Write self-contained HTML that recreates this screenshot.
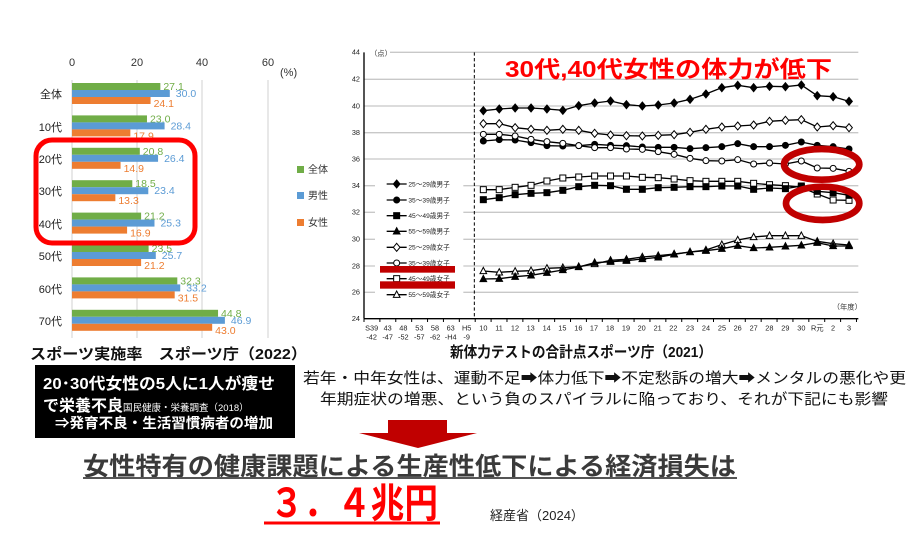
<!DOCTYPE html>
<html><head><meta charset="utf-8"><style>
html,body{margin:0;padding:0;background:#fff;}
svg{display:block;font-family:"Liberation Sans","Noto Sans CJK JP",sans-serif;}
</style></head><body>
<svg id="s" width="916" height="556" viewBox="0 0 916 556" xmlns="http://www.w3.org/2000/svg">
<rect width="916" height="556" fill="#fff"/>
<!-- LEFT CHART -->
<g font-size="11" fill="#333">
<text x="72" y="66" text-anchor="middle">0</text>
<text x="137" y="66" text-anchor="middle">20</text>
<text x="202" y="66" text-anchor="middle">40</text>
<text x="268" y="66" text-anchor="middle">60</text>
<text x="280" y="76">(%)</text>
</g>
<g stroke="#d0d0d0" stroke-width="1">
<line x1="72" y1="80" x2="72" y2="338"/><line x1="137" y1="80" x2="137" y2="338"/>
<line x1="202" y1="80" x2="202" y2="338"/><line x1="268" y1="80" x2="268" y2="338"/>
</g>
<g id="bars"></g>
<g font-size="11" fill="#222" text-anchor="end">
<text x="62" y="98">全体</text><text x="62" y="131">10代</text><text x="62" y="163">20代</text>
<text x="62" y="195">30代</text><text x="62" y="228">40代</text><text x="62" y="260">50代</text>
<text x="62" y="293">60代</text><text x="62" y="325">70代</text>
</g>
<g font-size="10" fill="#333">
<rect x="297" y="166" width="7" height="7" fill="#70ad47"/><text x="308" y="173">全体</text>
<rect x="297" y="192" width="7" height="7" fill="#5b9bd5"/><text x="308" y="199">男性</text>
<rect x="297" y="219" width="7" height="7" fill="#ed7d31"/><text x="308" y="226">女性</text>
</g>
<rect x="36" y="140" width="159" height="103" rx="16" fill="none" stroke="#ff0000" stroke-width="5"/>
<text x="30" y="359" font-size="15" font-weight="bold" fill="#111" textLength="277" lengthAdjust="spacingAndGlyphs">スポーツ実施率　スポーツ庁（2022）</text>

<!-- RIGHT CHART -->
<g transform="translate(360,40) scale(0.33333)">
<g stroke="#c8c8c8" stroke-width="4">
<line x1="90" y1="37" x2="1495" y2="37"/>
<line x1="12" y1="118" x2="1495" y2="118"/><line x1="12" y1="198" x2="1495" y2="198"/>
<line x1="12" y1="278" x2="1495" y2="278"/><line x1="12" y1="357" x2="1495" y2="357"/>
<line x1="12" y1="437" x2="1495" y2="437"/><line x1="12" y1="517" x2="1495" y2="517"/>
<line x1="12" y1="598" x2="1495" y2="598"/><line x1="12" y1="678" x2="1495" y2="678"/>
<line x1="12" y1="757" x2="1495" y2="757"/>
</g>
<line x1="12" y1="37" x2="12" y2="836" stroke="#000" stroke-width="4"/>
<line x1="12" y1="836" x2="1495" y2="836" stroke="#000" stroke-width="4"/>
<line x1="343" y1="37" x2="343" y2="836" stroke="#000" stroke-width="3" stroke-dasharray="10,7"/>
<rect x="45" y="408" width="265" height="380" fill="#fff"/>
<text x="30" y="48" font-size="22" fill="#333">（点）</text>
<text x="1418" y="808" font-size="22" fill="#333">（年度）</text>
<g id="ticks" stroke="#000" stroke-width="3"></g>
<g font-size="22" fill="#222" text-anchor="middle">
<text x="35" y="872">S39</text><text x="83" y="872">43</text><text x="130" y="872">48</text><text x="178" y="872">53</text><text x="225" y="872">58</text><text x="272" y="872">63</text><text x="320" y="872">H5</text>
<text x="35" y="898">-42</text><text x="83" y="898">-47</text><text x="130" y="898">-52</text><text x="178" y="898">-57</text><text x="225" y="898">-62</text><text x="272" y="898">-H4</text><text x="320" y="898">-9</text>
<text x="370" y="872">10</text><text x="417" y="872">11</text><text x="465" y="872">12</text><text x="512" y="872">13</text><text x="560" y="872">14</text><text x="607" y="872">15</text><text x="655" y="872">16</text><text x="702" y="872">17</text><text x="750" y="872">18</text><text x="798" y="872">19</text><text x="845" y="872">20</text><text x="893" y="872">21</text><text x="940" y="872">22</text><text x="990" y="872">23</text><text x="1038" y="872">24</text><text x="1086" y="872">25</text><text x="1133" y="872">26</text><text x="1181" y="872">27</text><text x="1228" y="872">28</text><text x="1276" y="872">29</text><text x="1324" y="872">30</text><text x="1372" y="872">R元</text><text x="1419" y="872">2</text><text x="1467" y="872">3</text>
</g>
<g font-size="22" fill="#222" text-anchor="end">
<text x="0" y="44">44</text><text x="0" y="125">42</text><text x="0" y="205">40</text><text x="0" y="285">38</text><text x="0" y="364">36</text><text x="0" y="444">34</text><text x="0" y="524">32</text><text x="0" y="605">30</text><text x="0" y="685">28</text><text x="0" y="764">26</text><text x="0" y="843">24</text>
</g>
<g font-size="20" fill="#222">
<text x="145" y="439">25～29歳男子</text><text x="145" y="487">35～39歳男子</text>
<text x="145" y="534">45～49歳男子</text><text x="145" y="581">55～59歳男子</text>
<text x="145" y="629">25～29歳女子</text><text x="145" y="676">35～39歳女子</text>
<text x="145" y="723">45～49歳女子</text><text x="145" y="771">55～59歳女子</text>
</g>
<g id="series"></g>
<rect x="60" y="678" width="225" height="20" fill="#c00000"/>
<rect x="60" y="724" width="225" height="22" fill="#c00000"/>
<clipPath id="cp"><rect x="0" y="0" width="1518" height="900"/></clipPath>
<g clip-path="url(#cp)" fill="none" stroke="#c00000" stroke-width="20">
<ellipse cx="1385" cy="373" rx="113" ry="46"/>
<ellipse cx="1388" cy="490" rx="110" ry="50"/>
</g>
</g>
<text x="505" y="77" font-size="23" font-weight="bold" fill="#ff0000" textLength="327" lengthAdjust="spacingAndGlyphs">30代,40代女性の体力が低下</text>
<text x="450" y="357" font-size="15" font-weight="bold" fill="#111" textLength="262" lengthAdjust="spacingAndGlyphs">新体力テストの合計点スポーツ庁（2021）</text>

<!-- BOTTOM -->
<rect x="35" y="365" width="260" height="73" fill="#000"/>
<g fill="#fff" font-weight="bold">
<text x="43" y="389" font-size="16" textLength="232" lengthAdjust="spacingAndGlyphs">20･30代女性の5人に1人が痩せ</text>
<text x="43" y="411" font-size="16">で栄養不良<tspan font-size="9.5" font-weight="normal">国民健康・栄養調査（2018）</tspan></text>
<text x="55" y="428" font-size="14" textLength="218" lengthAdjust="spacingAndGlyphs">⇒発育不良・生活習慣病者の増加</text>
</g>
<g font-size="15" fill="#111">
<text x="303" y="383" textLength="603" lengthAdjust="spacingAndGlyphs">若年・中年女性は、運動不足➡体力低下➡不定愁訴の増大➡メンタルの悪化や更</text>
<text x="320" y="404" textLength="568" lengthAdjust="spacingAndGlyphs">年期症状の増悪、という負のスパイラルに陥っており、それが下記にも影響</text>
</g>
<polygon points="388,420 447,420 447,433 477,433 418,448 359,433 388,433" fill="#c00000"/>
<text x="83" y="475" font-size="25" font-weight="bold" fill="#3a3a3a" textLength="653" lengthAdjust="spacingAndGlyphs">女性特有の健康課題による生産性低下による経済損失は</text>
<line x1="83" y1="478" x2="737" y2="478" stroke="#555" stroke-width="2"/>
<text x="270" y="517" font-size="40" font-weight="bold" fill="#ff0000" textLength="168" lengthAdjust="spacingAndGlyphs">３．４兆円</text>
<line x1="264" y1="523" x2="440" y2="523" stroke="#ff0000" stroke-width="3"/>
<text x="490" y="520" font-size="13" fill="#222">経産省（2024）</text>
</svg>
<script>
var NS="http://www.w3.org/2000/svg";
function el(p,t,a){var e=document.createElementNS(NS,t);for(var k in a)e.setAttribute(k,a[k]);p.appendChild(e);return e;}
var bars=document.getElementById('bars');
var d=[[27.1,30.0,24.1],[23.0,28.4,17.9],[20.8,26.4,14.9],[18.5,23.4,13.3],[21.2,25.3,16.9],[23.5,25.7,21.2],[32.3,33.2,31.5],[44.8,46.9,43.0]];
var cols=["#70ad47","#5b9bd5","#ed7d31"];
d.forEach(function(r,i){var yc=94+i*32.4;
r.forEach(function(v,j){var y=yc-11+j*7;var w=v*3.26;
el(bars,'rect',{x:72,y:y,width:w,height:7,fill:cols[j]});
var t=el(bars,'text',{x:72+w+[3,6,3][j],y:y+7+(j==2?3:0),"font-size":10.5,fill:cols[j]});t.textContent=v.toFixed(1);});});
var tk=document.getElementById('ticks');
for(var i=0;i<32;i++){var x=12+i*47.66;el(tk,'line',{x1:x,y1:836,x2:x,y2:846});}
var S=document.getElementById('series');
var X=function(i){return 370+i*47.7;};
var ser=[
["d",1,[212,207,204,204,207,211,197,189,183,194,198,195,189,178,162,143,136,143,139,140,135,167,170,184],432],
["d",0,[251,251,263,268,271,268,271,280,285,287,288,286,284,277,268,261,258,255,244,241,239,261,257,263],622],
["c",1,[303,299,300,308,317,318,317,313,316,317,321,322,322,326,323,320,311,320,320,316,306,316,320,327],480],
["c",0,[283,283,288,298,305,310,317,323,323,327,328,335,343,355,362,363,359,372,369,372,363,384,385,394],669],
["s",0,[449,449,442,436,423,414,411,408,408,408,412,413,417,422,424,424,424,430,434,437,442,462,480,481],716],
["s",1,[479,473,464,460,458,451,440,436,437,448,448,443,442,440,440,438,438,448,444,446,438,454,458,466],527],
["t",0,[693,697,694,692,685,683,680,672,661,658,651,647,642,636,630,614,600,591,587,587,587,604,611,615],764],
["t",1,[717,716,710,706,698,690,681,668,665,662,657,652,643,636,632,626,617,624,622,619,616,608,618,618],574]];
function mk(t,f,x,y){var a={fill:f?"#000":"#fff",stroke:"#000","stroke-width":3};
if(t=="d"){a.points=[x,y-12,x+10,y,x,y+12,x-10,y].join(",");el(S,'polygon',a);}
else if(t=="c"){a.cx=x;a.cy=y;a.r=9;el(S,'circle',a);}
else if(t=="s"){a.x=x-9;a.y=y-9;a.width=18;a.height=18;el(S,'rect',a);}
else {a.points=[x,y-11,x+10,y+8,x-10,y+8].join(",");el(S,'polygon',a);}}
ser.forEach(function(s){var pts=s[2].map(function(y,i){return X(i)+","+y;}).join(" ");
el(S,'polyline',{points:pts,fill:"none",stroke:"#000","stroke-width":4});
s[2].forEach(function(y,i){mk(s[0],s[1],X(i),y);});
el(S,'line',{x1:80,y1:s[3],x2:140,y2:s[3],stroke:"#000","stroke-width":4});mk(s[0],s[1],110,s[3]);});
</script>
</body></html>
